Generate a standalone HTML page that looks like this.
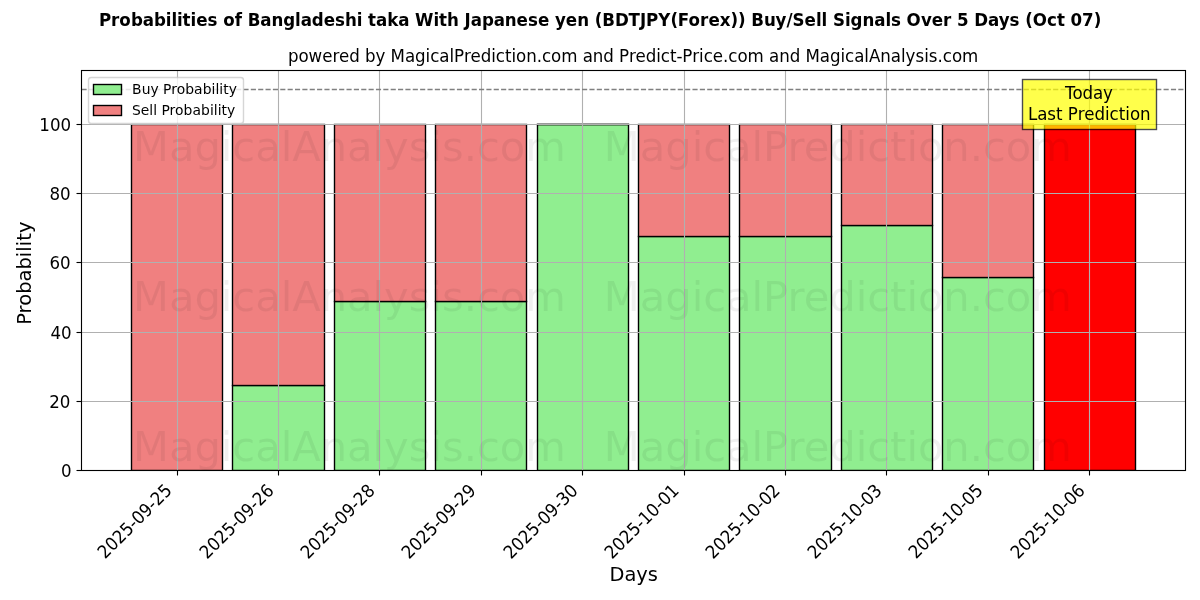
<!DOCTYPE html>
<html lang="en">
<head>
<meta charset="utf-8">
<title>Probabilities of Bangladeshi taka With Japanese yen (BDTJPY(Forex)) Buy/Sell Signals</title>
<style>
html,body{margin:0;padding:0;background:#ffffff;}
body{width:1200px;height:600px;overflow:hidden;}
svg{display:block;}
svg text{font-family:"DejaVu Sans","Liberation Sans",sans-serif;fill:#000000;}
</style>
</head>
<body>
<svg width="1200" height="600" viewBox="0 0 1200 600">
<rect x="0" y="0" width="1200" height="600" fill="#ffffff"/>
<defs><clipPath id="ax"><rect x="80.903" y="70.333" width="1104.097" height="399.602"/></clipPath></defs>
<!-- bars -->
<g clip-path="url(#ax)">
<g stroke="#000000" stroke-width="1.389" stroke-linejoin="miter">
<rect x="232.5" y="385.5" width="92.0" height="85.0" fill="#90ee90"/>
<rect x="334.5" y="301.5" width="91.0" height="169.0" fill="#90ee90"/>
<rect x="435.5" y="301.5" width="91.0" height="169.0" fill="#90ee90"/>
<rect x="537.5" y="124.5" width="91.0" height="346.0" fill="#90ee90"/>
<rect x="638.5" y="236.5" width="91.0" height="234.0" fill="#90ee90"/>
<rect x="739.5" y="236.5" width="92.0" height="234.0" fill="#90ee90"/>
<rect x="841.5" y="225.5" width="91.0" height="245.0" fill="#90ee90"/>
<rect x="942.5" y="277.5" width="91.0" height="193.0" fill="#90ee90"/>
<rect x="131.5" y="124.5" width="91.0" height="346.0" fill="#f08080"/>
<rect x="232.5" y="124.5" width="92.0" height="261.0" fill="#f08080"/>
<rect x="334.5" y="124.5" width="91.0" height="177.0" fill="#f08080"/>
<rect x="435.5" y="124.5" width="91.0" height="177.0" fill="#f08080"/>
<line x1="537.5" y1="124.5" x2="628.5" y2="124.5" stroke-linecap="square"/>
<rect x="638.5" y="124.5" width="91.0" height="112.0" fill="#f08080"/>
<rect x="739.5" y="124.5" width="92.0" height="112.0" fill="#f08080"/>
<rect x="841.5" y="124.5" width="91.0" height="101.0" fill="#f08080"/>
<rect x="942.5" y="124.5" width="91.0" height="153.0" fill="#f08080"/>
<rect x="1044.5" y="124.5" width="91.0" height="346.0" fill="#ff0000"/>
</g>
<!-- grid -->
<g stroke="#b0b0b0" stroke-width="1.111" fill="none">
<line x1="177.5" y1="470.5" x2="177.5" y2="70.5"/>
<line x1="278.5" y1="470.5" x2="278.5" y2="70.5"/>
<line x1="379.5" y1="470.5" x2="379.5" y2="70.5"/>
<line x1="481.5" y1="470.5" x2="481.5" y2="70.5"/>
<line x1="582.5" y1="470.5" x2="582.5" y2="70.5"/>
<line x1="684.5" y1="470.5" x2="684.5" y2="70.5"/>
<line x1="785.5" y1="470.5" x2="785.5" y2="70.5"/>
<line x1="886.5" y1="470.5" x2="886.5" y2="70.5"/>
<line x1="988.5" y1="470.5" x2="988.5" y2="70.5"/>
<line x1="1089.5" y1="470.5" x2="1089.5" y2="70.5"/>
<line x1="81.5" y1="470.5" x2="1185.5" y2="470.5"/>
<line x1="81.5" y1="401.5" x2="1185.5" y2="401.5"/>
<line x1="81.5" y1="332.5" x2="1185.5" y2="332.5"/>
<line x1="81.5" y1="262.5" x2="1185.5" y2="262.5"/>
<line x1="81.5" y1="193.5" x2="1185.5" y2="193.5"/>
<line x1="81.5" y1="124.5" x2="1185.5" y2="124.5"/>
</g>
<line x1="81.5" y1="89.5" x2="1185.5" y2="89.5" stroke="#808080" stroke-width="1.389" stroke-dasharray="5.139,2.222"/>
</g>
<!-- ticks -->
<g stroke="#000000" stroke-width="1.111">
<line x1="177.5" y1="470.5" x2="177.5" y2="475.5"/>
<line x1="278.5" y1="470.5" x2="278.5" y2="475.5"/>
<line x1="379.5" y1="470.5" x2="379.5" y2="475.5"/>
<line x1="481.5" y1="470.5" x2="481.5" y2="475.5"/>
<line x1="582.5" y1="470.5" x2="582.5" y2="475.5"/>
<line x1="684.5" y1="470.5" x2="684.5" y2="475.5"/>
<line x1="785.5" y1="470.5" x2="785.5" y2="475.5"/>
<line x1="886.5" y1="470.5" x2="886.5" y2="475.5"/>
<line x1="988.5" y1="470.5" x2="988.5" y2="475.5"/>
<line x1="1089.5" y1="470.5" x2="1089.5" y2="475.5"/>
<line x1="81.5" y1="470.5" x2="76.5" y2="470.5"/>
<line x1="81.5" y1="401.5" x2="76.5" y2="401.5"/>
<line x1="81.5" y1="332.5" x2="76.5" y2="332.5"/>
<line x1="81.5" y1="262.5" x2="76.5" y2="262.5"/>
<line x1="81.5" y1="193.5" x2="76.5" y2="193.5"/>
<line x1="81.5" y1="124.5" x2="76.5" y2="124.5"/>
</g>
<rect x="81.5" y="70.5" width="1104.0" height="400.0" fill="none" stroke="#000000" stroke-width="1.111"/>
<!-- tick labels -->
<text transform="translate(104.97 559.6) rotate(-45) scale(1 1.08)" x="0 10.62 21.12 31.75 42.25 48.12 58.62 69.12 75 85.62" y="0" font-size="16.667">2025-09-25</text>
<text transform="translate(206.98 559.73) rotate(-45) scale(1 1.08)" x="0 10.62 21.12 31.75 42.25 48.12 58.62 69.12 75 85.62" y="0" font-size="16.667">2025-09-26</text>
<text transform="translate(307.99 559.73) rotate(-45) scale(1 1.08)" x="0 10.62 21.12 31.75 42.25 48.12 58.62 69.12 75 85.62" y="0" font-size="16.667">2025-09-28</text>
<text transform="translate(409.01 559.73) rotate(-45) scale(1 1.08)" x="0 10.62 21.12 31.75 42.25 48.12 58.62 69.12 75 85.62" y="0" font-size="16.667">2025-09-29</text>
<text transform="translate(511.02 559.73) rotate(-45) scale(1 1.08)" x="0 10.62 21.12 31.75 42.25 48.12 58.62 69.12 75 85.62" y="0" font-size="16.667">2025-09-30</text>
<text transform="translate(612.03 559.73) rotate(-45) scale(1 1.08)" x="0 10.62 21.12 31.75 42.25 48.12 58.75 69.25 75.12 85.62" y="0" font-size="16.667">2025-10-01</text>
<text transform="translate(713.04 559.73) rotate(-45) scale(1 1.08)" x="0 10.62 21.12 31.75 42.25 48.12 58.75 69.25 75.12 85.62" y="0" font-size="16.667">2025-10-02</text>
<text transform="translate(815.05 559.73) rotate(-45) scale(1 1.08)" x="0 10.62 21.12 31.75 42.25 48.12 58.75 69.25 75.12 85.62" y="0" font-size="16.667">2025-10-03</text>
<text transform="translate(916.06 559.6) rotate(-45) scale(1 1.08)" x="0 10.62 21.12 31.75 42.25 48.12 58.75 69.25 75.12 85.62" y="0" font-size="16.667">2025-10-05</text>
<text transform="translate(1018.07 559.73) rotate(-45) scale(1 1.08)" x="0 10.62 21.12 31.75 42.25 48.12 58.75 69.25 75.12 85.62" y="0" font-size="16.667">2025-10-06</text>
<text transform="translate(0 477) scale(1 1.06)" x="60.93" y="0" font-size="16.667">0</text>
<text transform="translate(0 408) scale(1 1.06)" x="49.18 59.8" y="0" font-size="16.667">20</text>
<text transform="translate(0 339) scale(1 1.06)" x="50.43 60.93" y="0" font-size="16.667">40</text>
<text transform="translate(0 269) scale(1 1.06)" x="49.43 59.93" y="0" font-size="16.667">60</text>
<text transform="translate(0 200) scale(1 1.06)" x="49.43 59.93" y="0" font-size="16.667">80</text>
<text transform="translate(0 131) scale(1 1.06)" x="39.3 49.93 60.43" y="0" font-size="16.667">100</text>
<text transform="translate(0 581) scale(1 1.02)" x="609.51 624.39 636.26 647.76" y="0" font-size="19.444">Days</text>
<text transform="translate(30.77 273.13) rotate(-90) scale(1 1.02)" x="-51.62 -40.38 -32.62 -20.62 -8.25 3.62 16 21.5 27 32.5 40.12" y="0" font-size="19.444">Probability</text>
<!-- annotation -->
<rect x="1022.5" y="79.5" width="134" height="50" fill="#ffff00" stroke="#000000" stroke-width="1.389" opacity="0.7"/>
<text transform="translate(0 99) scale(1 1.06)" x="1065 1072.38 1082.5 1093 1103.12" y="0" font-size="16.667">Today</text>
<text transform="translate(0 120) scale(1 1.06)" x="1028 1037.25 1047.38 1056.12 1062.62 1067.88 1077.75 1084.25 1094.5 1105 1109.62 1118.75 1125.25 1129.88 1140" y="0" font-size="16.667">Last Prediction</text>
<text transform="translate(0 62) scale(1 1.06)" x="287.89 298.39 308.51 322.14 332.39 338.89 349.14 359.64 364.89 375.39 385.26 390.51 404.89 415.01 425.51 430.14 439.26 449.39 454.01 463.89 470.39 480.64 491.14 495.76 504.89 511.39 516.01 526.14 536.64 541.89 551.01 561.14 577.39 582.64 592.76 603.26 613.76 619.01 628.89 635.39 645.64 656.14 660.76 669.89 676.39 682.26 692.14 699.01 703.64 712.76 723.01 728.26 737.39 747.51 763.76 769.01 779.14 789.64 800.14 805.39 819.76 829.89 840.39 845.01 854.14 864.26 868.89 880.26 890.76 900.89 905.51 915.39 924.14 928.76 937.51 942.76 951.89 962.01" y="0" font-size="16.667">powered by MagicalPrediction.com and Predict-Price.com and MagicalAnalysis.com</text>
<!-- legend -->
<rect x="88.5" y="77.5" width="155" height="46" rx="2.78" ry="2.78" fill="#ffffff" stroke="#cccccc" stroke-width="1.389" opacity="0.8"/>
<rect x="93.5" y="84.5" width="28.0" height="10.0" fill="#90ee90" stroke="#000000" stroke-width="1.389"/>
<text transform="translate(0 94) scale(1 1.03)" x="132.04 141.67 150.42 158.67 163.04 171.17 176.67 185.17 194.04 202.67 211.54 215.42 219.29 223.17 228.67" y="0" font-size="13.889">Buy Probability</text>
<rect x="93.5" y="105.5" width="28.0" height="10.0" fill="#f08080" stroke="#000000" stroke-width="1.389"/>
<text transform="translate(0 115) scale(1 1.03)" x="132.04 140.79 149.29 153.17 157.04 161.42 169.54 175.04 183.54 192.42 201.04 209.92 213.79 217.67 221.54 227.04" y="0" font-size="13.889">Sell Probability</text>
<text transform="translate(0 26) scale(1 1.06)" x="99 111.12 119.38 130.88 142.75 153.88 165.75 171.38 177 182.62 190.62 196.25 207.62 217.5 223.25 234.75 242 247.75 260.38 271.5 283.25 295.12 300.75 311.88 323.75 335.12 345 356.75 362.38 368.12 376.12 387.25 398.25 409.38 415.12 433.5 439.12 447.12 458.88 464.62 470.75 481.88 493.75 504.88 516.62 528 537.88 549.25 555 565.88 577.25 589 594.75 602.25 614.88 628.62 640 646.12 658.25 670.38 677.88 688.62 700.12 708.38 719.75 730.5 738 745.5 751.25 763.88 775.62 786.5 792.62 804.62 816 821.62 827.25 833 845 850.62 862.5 874.25 885.38 891 900.88 906.62 920.88 931.75 943.12 951.38 957.12 968.62 974.38 988.12 998.75 1009.62 1019.5 1025.25 1032.75 1047 1056.88 1064.88 1070.62 1082.12 1093.75" y="0" font-size="16.667" font-weight="700">Probabilities of Bangladeshi taka With Japanese yen (BDTJPY(Forex)) Buy/Sell Signals Over 5 Days (Oct 07)</text>
<!-- watermarks -->
<g opacity="0.055" style="stroke:none">
<text x="132.93 168.93 194.43 220.8 232.3 255.18 280.68 292.18 320.68 347.05 372.55 384.05 408.68 430.43 441.93 463.68 476.93 499.8 525.17" y="161" font-size="41.667" style="fill:#000000;stroke:none">MagicalAnalysis.com</text>
<text x="603.86 639.86 665.36 691.74 703.24 726.11 751.61 763.11 787.49 803.74 829.36 855.74 867.24 890.11 906.49 917.99 943.36 969.74 982.99 1005.86 1031.24" y="161" font-size="41.667" style="fill:#000000;stroke:none">MagicalPrediction.com</text>
<text x="132.93 168.93 194.43 220.8 232.3 255.18 280.68 292.18 320.68 347.05 372.55 384.05 408.68 430.43 441.93 463.68 476.93 499.8 525.17" y="311" font-size="41.667" style="fill:#000000;stroke:none">MagicalAnalysis.com</text>
<text x="603.86 639.86 665.36 691.74 703.24 726.11 751.61 763.11 787.49 803.74 829.36 855.74 867.24 890.11 906.49 917.99 943.36 969.74 982.99 1005.86 1031.24" y="311" font-size="41.667" style="fill:#000000;stroke:none">MagicalPrediction.com</text>
<text x="132.93 168.93 194.43 220.8 232.3 255.18 280.68 292.18 320.68 347.05 372.55 384.05 408.68 430.43 441.93 463.68 476.93 499.8 525.17" y="461" font-size="41.667" style="fill:#000000;stroke:none">MagicalAnalysis.com</text>
<text x="603.86 639.86 665.36 691.74 703.24 726.11 751.61 763.11 787.49 803.74 829.36 855.74 867.24 890.11 906.49 917.99 943.36 969.74 982.99 1005.86 1031.24" y="461" font-size="41.667" style="fill:#000000;stroke:none">MagicalPrediction.com</text>
</g>
</svg>
</body>
</html>
